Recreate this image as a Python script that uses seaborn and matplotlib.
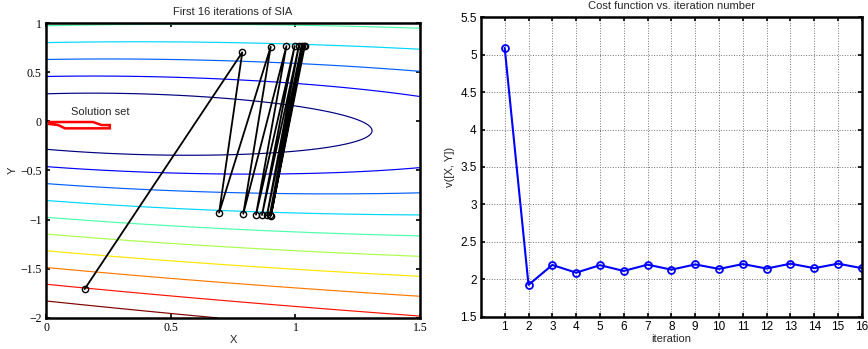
import numpy as np
import pandas as pd
import matplotlib
matplotlib.use("Agg")
import matplotlib.pyplot as plt
import seaborn as sns

# surface parameters of the cost function (fitted to the contour lines of the picture)
surf_a = 0.1177
surf_h = 0.0714
surf_x0 = 0.2972
surf_y0 = -0.0233
surf_e = 0.0960
contour_levels = [0.299, 0.469, 0.639, 0.809, 0.979, 1.149, 1.318, 1.488, 1.658, 1.828]

# SIA iterates (start point, then alternating top / bottom)
iter_x = [0.155, 0.787, 0.694, 0.901, 0.791, 0.964, 0.842, 0.997,
          0.866, 1.014, 0.886, 1.025, 0.897, 1.033, 0.902, 1.038]
iter_y = [-1.706, 0.702, -0.930, 0.759, -0.940, 0.766, -0.950, 0.766,
          -0.953, 0.769, -0.956, 0.770, -0.957, 0.770, -0.958, 0.771]

# solution set polygon
sol_x = [0.013, 0.189, 0.223, 0.256, 0.256, 0.076, 0.049, 0.013]
sol_y = [-0.007, -0.007, -0.038, -0.038, -0.071, -0.071, -0.038, -0.027]

# cost function per iteration
iteration = list(range(1, 17))
cost = [5.09, 1.927, 2.193, 2.09, 2.19, 2.113, 2.197, 2.13,
        2.20, 2.14, 2.205, 2.145, 2.21, 2.15, 2.21, 2.15]


def surface(x, y):
    dx = x - surf_x0
    dy = y - surf_y0
    q = surf_a * dx**2 + 2 * surf_h * dx * dy + dy**2
    return np.sqrt(np.maximum(q, 0)) * np.exp(-surf_e * x)


sns.set_style("ticks")
plt.rcParams['font.family'] = ['Liberation Sans', 'DejaVu Sans']
plt.rcParams['axes.unicode_minus'] = True

fig = plt.figure(figsize=(8.68, 3.49), dpi=100)
ax1 = fig.add_axes([0.053, 0.089, 0.431, 0.845])
ax2 = fig.add_axes([0.554, 0.092, 0.439, 0.859])

# ---- left: contours + iterates
gx, gy = np.meshgrid(np.linspace(0, 1.5, 400), np.linspace(-2, 1, 400))
ax1.contour(gx, gy, surface(gx, gy), levels=contour_levels, cmap="jet",
            linewidths=0.85, zorder=1)

ax1.fill(sol_x, sol_y, facecolor="white", edgecolor="red", lw=1.8, zorder=2)
ax1.text(0.1, 0.09, "Solution set", fontsize=8, ha="left", va="center")

df_path = pd.DataFrame({"x": iter_x, "y": iter_y})
sns.lineplot(data=df_path, x="x", y="y", sort=False, ax=ax1, color="black",
             lw=1.3, marker="o", markersize=4.5, markerfacecolor="none",
             markeredgecolor="black", markeredgewidth=1.0, zorder=3)

ax1.set_xlim(0, 1.5)
ax1.set_ylim(-2, 1)
xt = [0, 0.5, 1, 1.5]
yt = [-2, -1.5, -1, -0.5, 0, 0.5, 1]
ax1.set_xticks(xt)
ax1.set_xticklabels([f"{v:g}" for v in xt], family="Liberation Serif", fontsize=8.5)
ax1.set_yticks(yt)
ax1.set_yticklabels([f"{v:g}".replace("-", "\u2212") for v in yt],
                    family="Liberation Serif", fontsize=8.5)
ax1.set_xlabel("X", fontsize=8, labelpad=1)
ax1.set_ylabel("Y", fontsize=8, labelpad=2)
ax1.set_title("First 16 iterations of SIA", fontsize=8, pad=6)

# ---- right: cost function
df_cost = pd.DataFrame({"iteration": iteration, "cost": cost})
sns.lineplot(data=df_cost, x="iteration", y="cost", ax=ax2, color="blue",
             lw=1.5, marker="o", markersize=5, markerfacecolor="none",
             markeredgecolor="blue", markeredgewidth=1.3)
ax2.set_xlim(0, 16)
ax2.set_ylim(1.5, 5.5)
ax2.set_xticks(iteration)
ax2.set_xticklabels([str(v) for v in iteration], fontsize=8.5)
yt2 = [1.5, 2, 2.5, 3, 3.5, 4, 4.5, 5, 5.5]
ax2.set_yticks(yt2)
ax2.set_yticklabels([f"{v:g}" for v in yt2], fontsize=8.5)
ax2.grid(True, linestyle=":", color="0.45", linewidth=0.7)
ax2.set_xlabel("iteration", fontsize=8, labelpad=1)
ax2.set_ylabel("v([X, Y])", fontsize=8, labelpad=4)
ax2.set_title("Cost function vs. iteration number", fontsize=8, pad=6)

for ax in (ax1, ax2):
    for sp in ax.spines.values():
        sp.set_visible(True)
        sp.set_linewidth(1.8)
        sp.set_color("black")
    ax.tick_params(direction="in", length=3, width=1.2, top=True, right=True,
                   pad=3, colors="black")
    ax.set_axisbelow(True)

fig.savefig("out.png", dpi=100)
